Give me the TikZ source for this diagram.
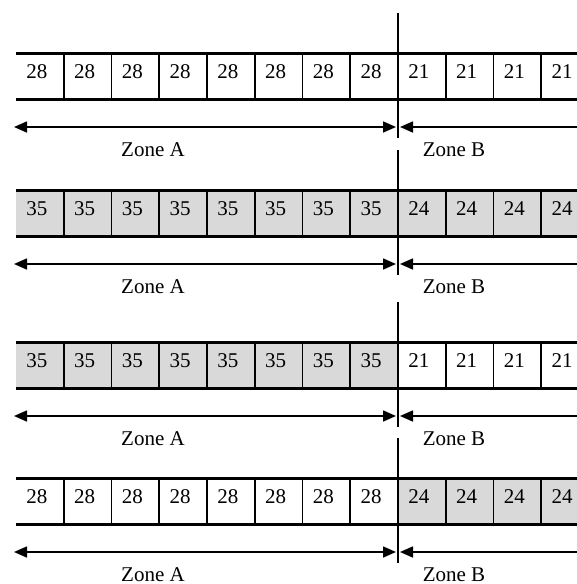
\documentclass[tikz,border=0pt]{standalone}
\usepackage{fontspec}
\setmainfont{Liberation Serif}
\usetikzlibrary{arrows.meta}
\definecolor{cellgray}{HTML}{D9D9D9}
\tikzset{
  cell/.style={minimum width=47.75pt, minimum height=46pt, inner sep=0pt,
    outer sep=0pt, anchor=north west},
  num/.style={anchor=base, inner sep=0pt, font=\fontsize{21}{21}\selectfont},
  zone/.style={anchor=base, inner sep=0pt, font=\fontsize{21}{21}\selectfont},
  rowline/.style={line width=3pt},
  sepline/.style={line width=1.8pt},
  divider/.style={line width=1.6pt},
  zarrow/.style={line width=1.6pt, >={Triangle[length=13pt, width=11pt]}}
}
\begin{document}
\begin{tikzpicture}[x=1pt, y=-1pt]
  \useasboundingbox (0,0) rectangle (577,584);
  \clip (0,0) rectangle (577,584);
  \foreach \r/\top/\a/\fa/\b/\fb in
      {1/53/28/white/21/white,
       2/190/35/cellgray/24/cellgray,
       3/342/35/cellgray/21/white,
       4/478/28/white/24/cellgray} {
    % zone A cells
    \foreach \i in {0,...,7} {
      \node[cell, fill=\fa] (r\r-\i) at (16+47.75*\i, \top) {};
      \node[num] (n\r-\i) at ([xshift=-3pt, yshift=-25pt]r\r-\i.north) {\a};
    }
    % zone B cells
    \foreach \i in {8,...,11} {
      \node[cell, fill=\fb] (r\r-\i) at (16+47.75*\i, \top) {};
      \node[num] (n\r-\i) at ([xshift=-3pt, yshift=-25pt]r\r-\i.north) {\b};
    }
    % cell separators
    \foreach \i in {1,...,7,9,10,11}
      \draw[sepline] (r\r-\i.north west) -- (r\r-\i.south west);
    % top and bottom rules of the row
    \draw[rowline] (r\r-0.north west) -- (r\r-11.north east);
    \draw[rowline] (r\r-0.south west) -- (r\r-11.south east);
    % zone boundary
    \coordinate (dtop\r) at (398, \top-40);
    \coordinate (dbot\r) at (398, \top+85);
    \draw[divider] (dtop\r) -- (dbot\r);
    % zone extent arrows
    \coordinate (la\r) at (14, \top+74);
    \coordinate (mid\r) at (398, \top+74);
    \coordinate (ra\r) at (590, \top+74);
    \draw[zarrow, <->, shorten >=2pt] (la\r) -- (mid\r);
    \draw[zarrow, ->, shorten >=2pt] (ra\r) -- (mid\r);
    % zone labels
    \node[zone] (za\r) at (153, \top+103) {Zone A};
    \node[zone] (zb\r) at (454, \top+103) {Zone B};
  }
\end{tikzpicture}
\end{document}
